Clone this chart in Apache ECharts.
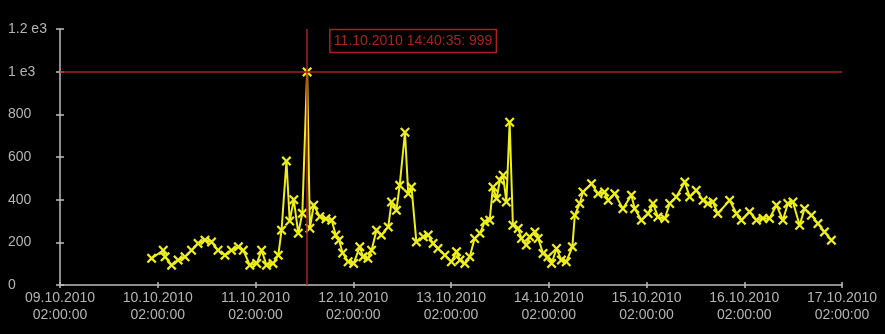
<!DOCTYPE html>
<html>
<head>
<meta charset="utf-8">
<script src="https://cdn.jsdelivr.net/npm/echarts@6/dist/echarts.min.js"></script>
<style>
html,body{margin:0;padding:0;background:#000;}
#chart{width:885px;height:334px;}
</style>
</head>
<body>
<div id="chart"></div>
<script>
// Time axis: hours since 09.10.2010 02:00:00
const startTime = [2010, 9, 9, 2, 0, 0]; // year, month(0-based), day, h, m, s
const axisMaxHours = 192;
const axisStepHours = 24;
const yTicks = [0, 200, 400, 600, 800, 1000, 1200];

const hours = [
  22.5, 25.35, 25.8, 27.4, 29.0, 30.7, 32.3, 33.9, 35.6, 37.2,
  38.8, 40.5, 42.1, 43.8, 45.0, 46.6, 48.3, 49.5, 50.7, 52.3,
  53.6, 54.4, 55.6, 56.4, 57.4, 58.5, 59.5, 60.676, 61.35, 62.3,
  63.8, 65.3, 66.7, 67.7, 68.5, 69.4, 70.75, 72.1, 73.6, 74.4,
  75.6, 76.5, 77.7, 78.9, 80.6, 81.4, 82.6, 83.4, 84.7, 85.5,
  86.3, 87.5, 89.2, 90.4, 91.6, 92.8, 94.5, 96.1, 97.35, 98.2,
  99.4, 100.6, 101.8, 103.1, 104.3, 105.5, 106.3, 107.2, 108.0, 108.8,
  109.6, 110.4, 111.2, 112.5, 113.3, 114.5, 115.3, 116.6, 117.4, 118.6,
  119.8, 120.7, 121.9, 123.1, 124.3, 125.8, 126.4, 127.6, 128.4, 130.5,
  132.1, 133.7, 134.6, 136.2, 138.2, 140.3, 141.1, 142.75, 144.4, 145.6,
  146.8, 148.5, 149.7, 151.3, 153.4, 154.6, 156.2, 157.9, 159.1, 160.3,
  161.5, 164.4, 166.1, 167.3, 169.3, 171.0, 172.6, 174.2, 175.9, 177.5,
  178.7, 179.95, 181.6, 182.8, 184.5, 186.1, 187.7, 189.4
];
const values = [
  125, 163, 132, 93, 117, 132, 163, 195, 210, 202,
  163, 140, 163, 179, 163, 93, 101, 163, 93, 101,
  140, 257, 581, 300, 400, 243, 336, 999, 266, 374,
  320, 310, 304, 234, 210, 150, 109, 101, 179, 132,
  125, 163, 257, 234, 272, 389, 350, 467, 716, 428,
  459, 202, 226, 234, 195, 171, 140, 109, 156, 117,
  101, 132, 218, 242, 296, 304, 459, 405, 491, 514,
  389, 763, 280, 265, 218, 187, 226, 249, 218, 148,
  132, 101, 171, 117, 109, 179, 327, 382, 436, 475,
  428, 436, 397, 428, 358, 421, 358, 304, 335, 382,
  319, 312, 382, 413, 483, 413, 444, 397, 382, 389,
  335, 397, 335, 304, 343, 304, 312, 312, 374, 304,
  382, 389, 280, 358, 327, 288, 249, 210
];
const cursorIndex = 27;
const cursorLabel = '11.10.2010 14:40:35: 999';

const pad = n => (n < 10 ? '0' : '') + n;
function hoursToLabel(h) {
  const base = Date.UTC(startTime[0], startTime[1], startTime[2], startTime[3], startTime[4], startTime[5]);
  const d = new Date(base + h * 3600000);
  return pad(d.getUTCDate()) + '.' + pad(d.getUTCMonth() + 1) + '.' + d.getUTCFullYear() +
    '\n' + pad(d.getUTCHours()) + ':' + pad(d.getUTCMinutes()) + ':' + pad(d.getUTCSeconds());
}
function yLabel(v) {
  return v >= 1000 ? (v / 1000) + ' e3' : String(v);
}

const axisColor = '#bdbdbd';
const textColor = '#b4b4b4';
const red = '#a8231d';
const yellow = '#eeee1e';
const xSymbol = 'path://M0,1.6L1.6,0L5,3.4L8.4,0L10,1.6L6.6,5L10,8.4L8.4,10L5,6.6L1.6,10L0,8.4L3.4,5Z';

const chart = echarts.init(document.getElementById('chart'), null, {renderer: 'canvas'});
const font = '"Liberation Sans", Arial, sans-serif';

const xBase = {
  type: 'value', min: 0, max: axisMaxHours, interval: axisStepHours,
  splitLine: {show: false}
};
const yBase = {
  type: 'value', min: yTicks[0], max: yTicks[yTicks.length - 1], interval: yTicks[1] - yTicks[0],
  splitLine: {show: false}
};

chart.setOption({
  backgroundColor: '#000',
  animation: false,
  grid: {left: 60, right: 43, top: 29, bottom: 49},
  xAxis: [
    Object.assign({}, xBase, {
      position: 'bottom',
      axisLine: {show: true, lineStyle: {color: axisColor, width: 1.5}},
      axisTick: {show: true, inside: false, length: 3, lineStyle: {color: axisColor, width: 1.5}},
      axisLabel: {color: textColor, fontSize: 14, fontFamily: font, lineHeight: 17, margin: 5,
        formatter: hoursToLabel}
    }),
    Object.assign({}, xBase, {
      position: 'bottom',
      axisLine: {show: false},
      axisTick: {show: true, inside: true, length: 3, lineStyle: {color: axisColor, width: 1.5}},
      axisLabel: {show: false}
    })
  ],
  yAxis: [
    Object.assign({}, yBase, {
      position: 'left',
      axisLine: {show: true, lineStyle: {color: axisColor, width: 1.5}},
      axisTick: {show: true, inside: false, length: 4, lineStyle: {color: axisColor, width: 1.5}},
      axisLabel: {color: textColor, fontSize: 14, fontFamily: font, align: 'left', margin: 52,
        formatter: yLabel}
    }),
    Object.assign({}, yBase, {
      position: 'left',
      axisLine: {show: false},
      axisTick: {show: true, inside: true, length: 4, lineStyle: {color: axisColor, width: 1.5}},
      axisLabel: {show: false}
    })
  ],
  series: [{
    type: 'line',
    xAxisIndex: 0,
    yAxisIndex: 0,
    data: hours.map((h, i) => [h, values[i]]),
    symbol: xSymbol,
    symbolSize: 10,
    showAllSymbol: true,
    itemStyle: {color: yellow},
    lineStyle: {color: yellow, width: 2},
    markLine: {
      silent: true,
      symbol: ['none', 'none'],
      label: {show: false},
      lineStyle: {color: red, width: 1.5, type: 'solid'},
      data: [
        {xAxis: hours[cursorIndex]},
        {yAxis: values[cursorIndex]}
      ]
    },
    markPoint: {
      silent: true,
      symbol: 'circle',
      symbolSize: 1,
      itemStyle: {color: 'rgba(0,0,0,0)'},
      data: [{
        coord: [hours[cursorIndex], values[cursorIndex]],
        label: {
          show: true,
          position: 'inside',
          offset: [106, -31],
          formatter: cursorLabel,
          color: red,
          fontSize: 14,
          fontFamily: font,
          borderColor: red,
          borderWidth: 1.5,
          padding: [5, 4, 4, 4]
        }
      }]
    }
  }]
});
</script>
</body>
</html>
